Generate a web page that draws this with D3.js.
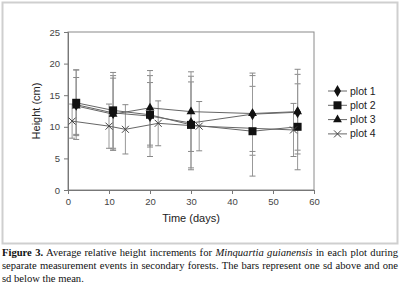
<!DOCTYPE html>
<html><head><meta charset="utf-8">
<script src="https://cdn.jsdelivr.net/npm/d3@7"></script>
<style>
html,body{margin:0;padding:0;background:#fff;width:400px;height:287px;overflow:hidden;}
#cap{position:absolute;left:2px;top:246px;width:396px;font-family:"Liberation Serif","Times New Roman",serif;font-size:10.6px;line-height:13px;color:#111;}
#cap div{text-align:justify;text-align-last:justify;white-space:nowrap;}
#cap div.last{text-align-last:left;}
</style></head><body>
<svg id="chart" width="400" height="287" style="position:absolute;left:0;top:0"></svg>
<div id="cap">
<div><b>Figure 3.</b> Average relative height increments for <i>Minquartia guianensis</i> in each plot during</div>
<div>separate measurement events in secondary forests. The bars represent one sd above and one</div>
<div class="last">sd below the mean.</div>
</div>
<script>
const seriesNames = ["plot 1", "plot 2", "plot 3", "plot 4"];
const days123 = [2, 11, 20, 30, 45, 56];
const days4 = [1, 10, 14, 22, 32, 55];
const plot1Mean = [13.5, 12.2, 11.7, 10.6, 12.0, 12.3];
const plot1Sd   = [5.5, 5.9, 6.4, 7.4, 6.5, 6.0];
const plot2Mean = [13.8, 12.6, 11.9, 10.3, 9.3, 10.0];
const plot2Sd   = [5.2, 6.0, 5.1, 6.8, 7.1, 6.8];
const plot3Mean = [13.3, 12.0, 13.0, 12.4, 12.1, 12.4];
const plot3Sd   = [4.5, 5.7, 5.9, 6.3, 6.0, 6.7];
const plot4Mean = [10.9, 10.1, 9.6, 10.55, 10.1, 9.5];
const plot4Sd   = [2.7, 3.5, 3.9, 3.55, 3.9, 4.2];
const xTicks = [0, 10, 20, 30, 40, 50, 60];
const yTicks = [0, 5, 10, 15, 20, 25];

const series = [
  {name: seriesNames[0], days: days123, mean: plot1Mean, sd: plot1Sd, shape: "diamond"},
  {name: seriesNames[1], days: days123, mean: plot2Mean, sd: plot2Sd, shape: "square"},
  {name: seriesNames[2], days: days123, mean: plot3Mean, sd: plot3Sd, shape: "triangle"},
  {name: seriesNames[3], days: days4, mean: plot4Mean, sd: plot4Sd, shape: "cross"}
];

const svg = d3.select("#chart");
const font = "Liberation Sans, Arial, sans-serif";
svg.append("rect").attr("x", 2.5).attr("y", 2.5).attr("width", 395).attr("height", 241)
  .attr("fill", "#fff").attr("stroke", "#cfcfcf").attr("stroke-width", 2);

const x = d3.scaleLinear().domain([0, 60]).range([68, 314]);
const y = d3.scaleLinear().domain([0, 25]).range([190, 32]);

// plot frame
svg.append("rect").attr("x", 68).attr("y", 32).attr("width", 246).attr("height", 158)
  .attr("fill", "none").attr("stroke", "#8a8a8a").attr("stroke-width", 1);

const xAxis = svg.append("g").attr("transform", "translate(0,190)")
  .call(d3.axisBottom(x).tickValues(xTicks).tickSize(4).tickPadding(4));
const yAxis = svg.append("g").attr("transform", "translate(68,0)")
  .call(d3.axisLeft(y).tickValues(yTicks).tickSize(4).tickPadding(4));
[xAxis, yAxis].forEach(g => {
  g.selectAll("path, line").attr("stroke", "#777");
  g.selectAll("text").attr("fill", "#444").style("font-family", font).style("font-size", "9.5px");
});

svg.append("text").attr("x", 191).attr("y", 222).attr("text-anchor", "middle")
  .style("font-family", font).style("font-size", "11px").attr("fill", "#222").text("Time (days)");
svg.append("text").attr("transform", "translate(40,111) rotate(-90)").attr("text-anchor", "middle")
  .style("font-family", font).style("font-size", "11px").attr("fill", "#222").text("Height (cm)");

// error bars
const eb = svg.append("g");
series.forEach(s => {
  s.days.forEach((d, i) => {
    const cx = x(d), hi = y(s.mean[i] + s.sd[i]), lo = y(s.mean[i] - s.sd[i]);
    eb.append("line").attr("x1", cx).attr("x2", cx).attr("y1", hi).attr("y2", lo).attr("stroke", "#999").attr("stroke-width", 1);
    [hi, lo].forEach(yy => eb.append("line").attr("x1", cx - 3).attr("x2", cx + 3).attr("y1", yy).attr("y2", yy).attr("stroke", "#888").attr("stroke-width", 1));
  });
});

// lines
const line = d3.line().x(d => x(d[0])).y(d => y(d[1]));
series.forEach(s => {
  svg.append("path").datum(s.days.map((d, i) => [d, s.mean[i]]))
    .attr("d", line).attr("fill", "none").attr("stroke", "#666").attr("stroke-width", 1);
});

function marker(g, shape, cx, cy) {
  if (shape === "diamond") {
    g.append("path").attr("d", d3.symbol(d3.symbolDiamond, 42)()).attr("transform", `translate(${cx},${cy})`).attr("fill", "#111");
  } else if (shape === "square") {
    g.append("rect").attr("x", cx - 4).attr("y", cy - 4).attr("width", 8).attr("height", 8).attr("fill", "#111");
  } else if (shape === "triangle") {
    g.append("path").attr("d", d3.symbol(d3.symbolTriangle, 34)()).attr("transform", `translate(${cx},${cy})`).attr("fill", "#111");
  } else {
    g.append("path").attr("d", `M${cx-3.5},${cy-3.5}L${cx+3.5},${cy+3.5}M${cx-3.5},${cy+3.5}L${cx+3.5},${cy-3.5}`)
      .attr("stroke", "#444").attr("stroke-width", 1).attr("fill", "none");
  }
}
const mk = svg.append("g");
series.forEach(s => s.days.forEach((d, i) => marker(mk, s.shape, x(d), y(s.mean[i]))));

// legend
const lg = svg.append("g");
series.forEach((s, i) => {
  const ly = 91 + i * 14.3;
  lg.append("line").attr("x1", 328).attr("x2", 347).attr("y1", ly).attr("y2", ly).attr("stroke", "#666");
  marker(lg, s.shape, 337.5, ly);
  lg.append("text").attr("x", 350).attr("y", ly + 3.5).style("font-family", font).style("font-size", "10.5px")
    .attr("fill", "#222").text(s.name);
});
</script>
</body></html>
